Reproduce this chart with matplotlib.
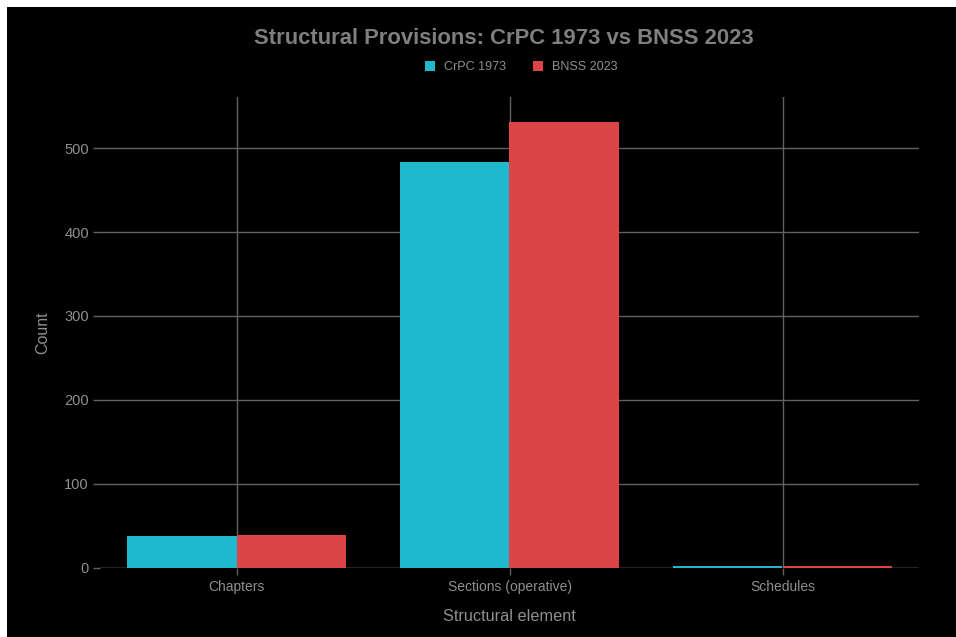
import matplotlib
matplotlib.use("Agg")
import matplotlib.pyplot as plt
import numpy as np
from matplotlib.patches import Rectangle

categories = ["Chapters", "Sections (operative)", "Schedules"]
crpc_1973 = [37, 484, 2]
bnss_2023 = [39, 531, 2]
series_names = ["CrPC 1973", "BNSS 2023"]
colors = ["#1FB8CD", "#DB4545"]

text_col = "#8f8f8f"
grid_col = "#626262"

plt.rcParams["font.family"] = ["Liberation Sans", "DejaVu Sans"]

fig = plt.figure(figsize=(9.56, 6.37), dpi=100, facecolor="black")
# thin white strip on top and left, like the screenshot
fig.patches.append(Rectangle((0, 0), 7 / 956, 1, transform=fig.transFigure,
                             facecolor="white", edgecolor="none", zorder=-10))
fig.patches.append(Rectangle((0, 1 - 7 / 637), 1, 7 / 637, transform=fig.transFigure,
                             facecolor="white", edgecolor="none", zorder=-10))

ax = fig.add_axes([100 / 956, 1 - 567.5 / 637, 819 / 956, 470.5 / 637])
ax.set_facecolor("black")

x = np.arange(len(categories))
w = 0.4
ax.bar(x - w / 2, crpc_1973, width=w, color=colors[0], label=series_names[0], zorder=3)
ax.bar(x + w / 2, bnss_2023, width=w, color=colors[1], label=series_names[1], zorder=3)

ax.set_xlim(-0.5, 2.5)
ax.set_ylim(0, 561)
ax.set_xticks(x)
ax.set_xticklabels(categories)
ax.set_yticks([0, 100, 200, 300, 400, 500])

ax.grid(True, color=grid_col, linewidth=1, zorder=0)
ax.axhline(0, color=grid_col, linewidth=1, zorder=2)
for s in ax.spines.values():
    s.set_visible(False)

ax.tick_params(axis="both", colors=grid_col, labelcolor=text_col, length=5, width=1)
ax.tick_params(axis="y", labelsize=10.5, pad=3)
ax.tick_params(axis="x", labelsize=10, pad=4)

ax.set_ylabel("Count", color=text_col, fontsize=11.5, labelpad=10)
ax.set_xlabel("Structural element", color=text_col, fontsize=11.7, labelpad=11)

fig.text(0.527, 0.94, "Structural Provisions: CrPC 1973 vs BNSS 2023", color="#7f7f7f",
         fontsize=15.8, fontweight="bold", ha="center", va="center")

leg = fig.legend(loc="center", bbox_to_anchor=(0.545, 1 - 67 / 637), ncol=2, frameon=False,
                 fontsize=9, handlelength=0.8, handleheight=0.8, columnspacing=2.2,
                 handletextpad=0.7)
for t in leg.get_texts():
    t.set_color(text_col)

fig.savefig("out.png", dpi=100, facecolor=fig.get_facecolor())
